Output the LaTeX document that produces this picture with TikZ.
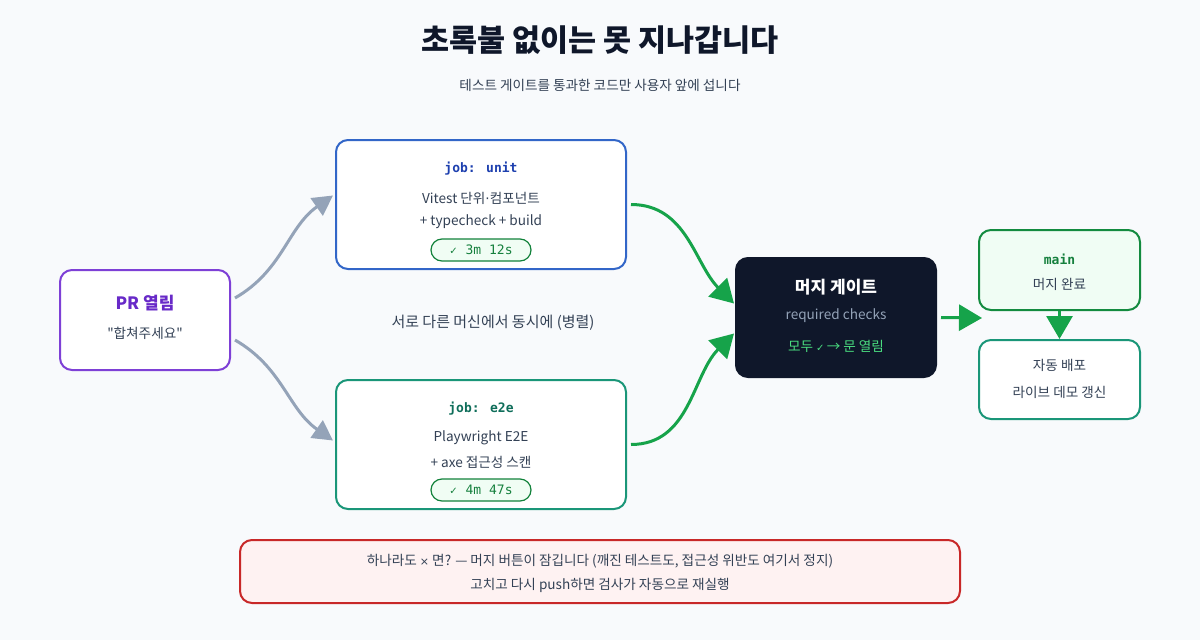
\documentclass[tikz,border=0pt]{standalone}
\usepackage{fontspec}
\setmainfont{Noto Sans CJK KR}[Ligatures=TeXOff]
\newfontfamily\codefont{DejaVu Sans Mono}
\newfontfamily\symfont{DejaVu Sans}
\usetikzlibrary{arrows.meta, positioning}
\definecolor{bgcol}{RGB}{248,250,252}
\definecolor{ink}{RGB}{15,23,42}
\definecolor{txt}{RGB}{51,65,85}
\definecolor{prcol}{RGB}{126,64,214}
\definecolor{prtext}{RGB}{104,42,200}
\definecolor{unitcol}{RGB}{50,102,200}
\definecolor{unittext}{RGB}{30,64,175}
\definecolor{e2ecol}{RGB}{26,150,120}
\definecolor{e2etext}{RGB}{15,110,90}
\definecolor{okcol}{RGB}{22,163,74}
\definecolor{oktext}{RGB}{21,128,61}
\definecolor{pillfill}{RGB}{240,253,244}
\definecolor{arrgray}{RGB}{148,163,184}
\definecolor{gatetext}{RGB}{74,222,128}
\definecolor{failcol}{RGB}{200,40,40}
\definecolor{failfill}{RGB}{254,242,242}

\begin{document}
\begin{tikzpicture}[x=1pt, y=-1pt,
  box/.style={rectangle, rounded corners=12pt, line width=2pt, fill=white, inner sep=0pt},
  pill/.style={rectangle, rounded corners=11pt, line width=1.2pt, draw=okcol!80!black,
               fill=pillfill, minimum width=100, minimum height=22, inner sep=0pt,
               text=oktext, font=\codefont\fontsize{13}{15}\selectfont},
  head/.style={font=\bfseries\fontsize{17}{20}\selectfont},
  code/.style={font=\codefont\bfseries\fontsize{13}{15}\selectfont},
  body/.style={text=txt, font=\fontsize{13.6}{16}\selectfont},
  grayarr/.style={-{Triangle[length=20pt, width=21pt]}, line width=3pt, color=arrgray},
  greenarr/.style={-{Triangle[length=23pt, width=26pt]}, line width=3pt, color=okcol}
]
  \useasboundingbox (0,0) rectangle (1200,640);
  \fill[bgcol] (0,0) rectangle (1200,640);

  % title
  \node[text=ink, font=\bfseries\fontsize{30.5}{36}\selectfont] (title) at (600,40) {초록불 없이는 못 지나갑니다};
  \node[body] (subtitle) at (600,85) {테스트 게이트를 통과한 코드만 사용자 앞에 섭니다};

  % boxes
  \node[box, draw=prcol, minimum width=170, minimum height=100] (pr) at (145,320) {};
  \node[box, draw=unitcol, minimum width=290, minimum height=129] (unit) at (481,204.5) {};
  \node[box, draw=e2ecol, minimum width=290, minimum height=129] (e2e) at (481,444.5) {};
  \node[box, fill=ink, draw=ink, minimum width=200, minimum height=119] (gate) at (836,317.5) {};
  \node[box, fill=pillfill, draw=okcol!85!black, minimum width=161, minimum height=80] (main) at (1059.5,270) {};
  \node[box, draw=e2ecol, minimum width=161, minimum height=79] (deploy) at (1059.5,379.5) {};
  \node[box, fill=failfill, draw=failcol, minimum width=720, minimum height=63] (fail) at (600,571.5) {};

  % PR
  \node[head, text=prtext] (prhead) at (145,303) {PR 열림};
  \node[body] (prbody) at (145,333) {"합쳐주세요"};

  % job: unit
  \node[code, text=unittext] (unithead) at (481,169) {job: unit};
  \node[body] (unit1) at (481,198) {Vitest 단위{\symfont ·}컴포넌트};
  \node[body] (unit2) at (481,222) {+ typecheck + build};
  \node[pill] (unitpill) at (481,250) {{\symfont\fontsize{10}{12}\selectfont ✓} 3m 12s};

  % job: e2e
  \node[code, text=e2etext] (e2ehead) at (481,409) {job: e2e};
  \node[body] (e2e1) at (481,438) {Playwright E2E};
  \node[body] (e2e2) at (481,462) {+ axe 접근성 스캔};
  \node[pill] (e2epill) at (481,490) {{\symfont\fontsize{10}{12}\selectfont ✓} 4m 47s};

  \node[body, font=\fontsize{15}{18}\selectfont] (parallel) at (493,323) {서로 다른 머신에서 동시에 (병렬)};

  % gate
  \node[head, text=white] (gatehead) at (836,287) {머지 게이트};
  \node[body, text=arrgray] (gate1) at (836,316) {required checks};
  \node[body, text=gatetext] (gate2) at (836,346) {모두 {\symfont\fontsize{10}{12}\selectfont ✓}\,→ 문 열림};

  % main / deploy
  \node[code, text=oktext] (mainhead) at (1059.5,259) {main};
  \node[body] (main1) at (1059.5,284) {머지 완료};
  \node[body] (deploy1) at (1059.5,365) {자동 배포};
  \node[body] (deploy2) at (1059.5,392) {라이브 데모 갱신};

  % fail note
  \node[body] (fail1) at (600,561) {하나라도 {\symfont\fontsize{11}{13}\selectfont ×} 면? — 머지 버튼이 잠깁니다 (깨진 테스트도, 접근성 위반도 여기서 정지)};
  \node[body] (fail2) at (600,585) {고치고 다시 push하면 검사가 자동으로 재실행};

  % connectors
  \draw[grayarr] ([xshift=4pt, yshift=22pt]pr.east) to[out=30, in=215] ([xshift=-2pt, yshift=9pt]unit.west);
  \draw[grayarr] ([xshift=4pt, yshift=-20pt]pr.east) to[out=-30, in=145] ([xshift=-2pt, yshift=4pt]e2e.west);
  \draw[greenarr] ([xshift=4pt]unit.east) to[out=0, in=135] ([xshift=-1pt, yshift=14pt]gate.west);
  \draw[greenarr] ([xshift=4pt]e2e.east) to[out=0, in=225] ([xshift=-1pt, yshift=-16pt]gate.west);
  \coordinate (mergein) at (982,318);
  \draw[greenarr] ([xshift=4pt]gate.east) -- (mergein);
  \draw[greenarr] (main.south) -- (deploy.north);
\end{tikzpicture}
\end{document}
